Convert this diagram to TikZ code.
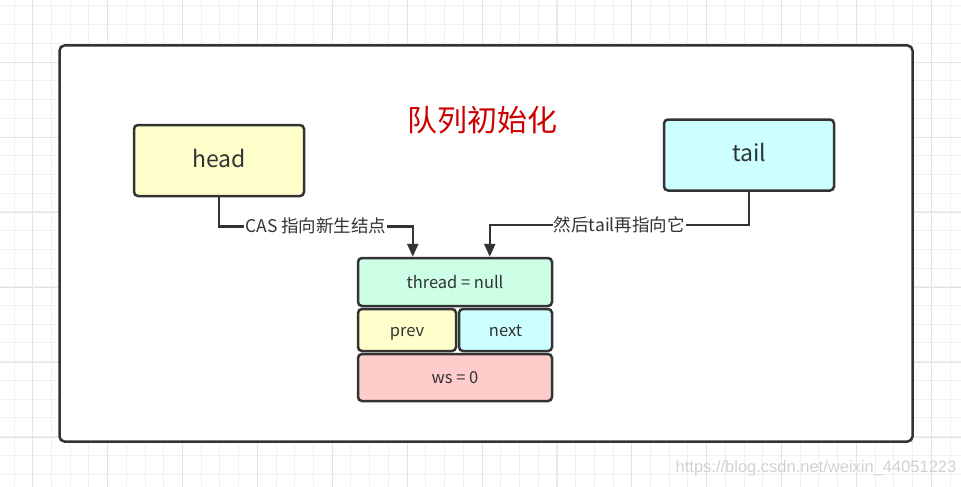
\documentclass[tikz,border=0pt]{standalone}
\usepackage{fontspec}
\setmainfont{Noto Sans CJK SC}
\newfontfamily\markfont{Liberation Sans}
\usetikzlibrary{arrows.meta}
\definecolor{ink}{HTML}{333333}
\definecolor{gridminor}{HTML}{F0F0F0}
\definecolor{gridmajor}{HTML}{E4E4E4}
\definecolor{headfill}{HTML}{FFFFCC}
\definecolor{tailfill}{HTML}{CCFFFF}
\definecolor{threadfill}{HTML}{CCFFE6}
\definecolor{wsfill}{HTML}{FFCCCC}
\definecolor{titlered}{HTML}{CC0000}

\begin{document}
\begin{tikzpicture}[
    x=1pt, y=-1pt,
    line cap=butt, line join=miter,
    box/.style={draw=ink, line width=2.5pt, rounded corners=4pt, inner sep=0pt,
        text=ink, text height=1.2em, text depth=0em},
    bigbox/.style={box, minimum width=170pt, minimum height=71pt, text height=1.35em,
        font=\fontsize{23}{27}\selectfont},
    cell/.style={box, font=\fontsize{16.5}{20}\selectfont},
    conn/.style={ink, line width=2.5pt, -{Triangle[length=13pt,width=11pt]}},
    lbl/.style={fill=white, text=ink, inner sep=1pt, font=\fontsize{17.5}{21}\selectfont},
]
\useasboundingbox (0,0) rectangle (961,487);

% Background grid
\foreach \gx in {0,...,51}
    \draw[gridminor, line width=1pt] (14+18.72*\gx,0) -- (14+18.72*\gx,487);
\foreach \gy in {0,...,26}
    \draw[gridminor, line width=1pt] (0,6+18.72*\gy) -- (961,6+18.72*\gy);
\foreach \gx in {0,...,12}
    \draw[gridmajor, line width=1pt] (32.7+74.9*\gx,0) -- (32.7+74.9*\gx,487);
\foreach \gy in {0,...,6}
    \draw[gridmajor, line width=1pt] (0,62.7+74.9*\gy) -- (961,62.7+74.9*\gy);

% Outer frame
\draw[ink, fill=white, line width=2.5pt, rounded corners=5pt]
    (59.5,45.5) rectangle (912.5,441.5);

% Title
\node[text=titlered, font=\fontsize{30}{35}\selectfont] (title) at (482,120) {队列初始化};

% head / tail
\node[bigbox, fill=headfill] (head) at (219,160.5) {head};
\node[bigbox, fill=tailfill] (tail) at (749,155) {tail};

% New node
\node[cell, fill=threadfill, minimum width=194pt, minimum height=48pt] (thread) at (455,282) {thread = null};
\node[cell, fill=headfill, minimum width=98pt, minimum height=42pt] (prev) at (407,330) {prev};
\node[cell, fill=tailfill, minimum width=93pt, minimum height=42pt] (next) at (505.5,330) {next};
\node[cell, fill=wsfill, minimum width=194pt, minimum height=47pt] (ws) at (455,377.5) {ws = 0};

% Connectors
\coordinate (casend) at ([xshift=56pt]thread.north west);
\coordinate (tailend) at ([xshift=133pt]thread.north west);
\draw[conn] (head.south) -- ++(0,29) -| node[lbl, pos=0.25] {CAS 指向新生结点} (casend);
\draw[conn] (tail.south) -- ++(0,33) -| node[lbl, pos=0.25] {然后tail再指向它} (tailend);

% Watermark
\node[text=black!18, font=\markfont\fontsize{16.5}{19}\selectfont] (mark) at (816,468) {https://blog.csdn.net/weixin\_44051223};

\end{tikzpicture}
\end{document}
